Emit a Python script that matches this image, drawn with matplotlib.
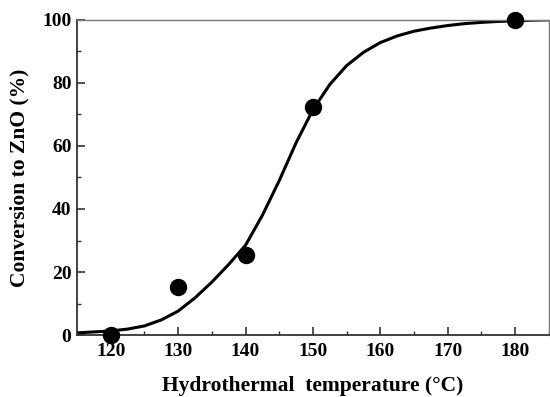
import matplotlib
matplotlib.use("Agg")
import matplotlib.pyplot as plt
from matplotlib.ticker import MultipleLocator

# measured points
temps = [120, 130, 140, 150, 180]
conversion = [0, 15.3, 25.4, 72.2, 100]

# fitted curve
curve_t = [115, 117.5, 120, 122.5, 125, 127.5, 130, 132.5, 135, 137.5, 140,
           142.5, 145, 147.5, 150, 152.5, 155, 157.5, 160, 162.5, 165,
           167.5, 170, 172.5, 175, 177.5, 180, 182.5, 185]
curve_c = [0.7, 1.0, 1.3, 1.9, 2.9, 4.8, 7.6, 11.8, 16.8, 22.4, 28.5,
           38.0, 49.0, 61.0, 71.5, 79.5, 85.5, 89.7, 92.8, 94.9, 96.4,
           97.4, 98.2, 98.8, 99.2, 99.5, 99.7, 99.9, 100.0]

plt.rcParams['font.family'] = ['Liberation Serif', 'DejaVu Serif']
plt.rcParams['font.weight'] = 'bold'

fig = plt.figure(figsize=(5.5, 3.97), dpi=100)
ax = fig.add_axes([0.14, 0.156, 0.858, 0.794])

ax.plot(curve_t, curve_c, color='black', lw=2.2, zorder=2)
ax.plot(temps, conversion, 'o', color='black', ms=11.5, zorder=3, clip_on=False)

ax.set_xlim(115, 185)
ax.set_ylim(0, 100)
ax.xaxis.set_major_locator(MultipleLocator(10))
ax.xaxis.set_minor_locator(MultipleLocator(5))
ax.yaxis.set_major_locator(MultipleLocator(20))
ax.yaxis.set_minor_locator(MultipleLocator(10))
ax.set_xticks([120, 130, 140, 150, 160, 170, 180])

ax.tick_params(which='both', direction='in', labelsize=14, color='#333333')
ax.tick_params(which='major', length=6, width=1.2)
ax.tick_params(which='minor', length=3, width=1.0)
ax.tick_params(axis='x', which='major', pad=6)
ax.tick_params(axis='y', which='major', pad=4)
ax.tick_params(axis='y', which='both', right=False)
ax.tick_params(axis='x', which='both', top=False)

for side in ['left', 'bottom']:
    ax.spines[side].set_color('#333333')
    ax.spines[side].set_linewidth(1.3)
for side in ['top', 'right']:
    ax.spines[side].set_color('#777777')
    ax.spines[side].set_linewidth(1.0)

ax.set_xlabel('Hydrothermal  temperature (°C)', fontsize=15.5, fontweight='bold', labelpad=11)
ax.set_ylabel('Conversion to ZnO (%)', fontsize=15.5, fontweight='bold', labelpad=9)

fig.savefig('out.png', dpi=100)
